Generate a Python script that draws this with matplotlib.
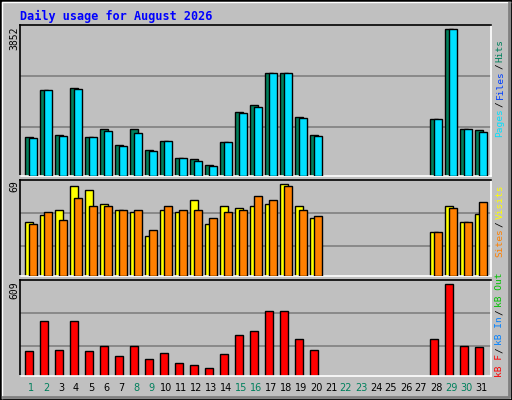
import matplotlib
matplotlib.use("Agg")
import matplotlib.pyplot as plt
from matplotlib.patches import Rectangle
from matplotlib.lines import Line2D

days = list(range(1, 32))
active = [1,2,3,4,5,6,7,8,9,10,11,12,13,14,15,16,17,18,19,20,28,29,30,31]
hits  = [1028,2257,1080,2309,1028,1237,819,1237,688,923,479,452,296,897,1681,1865,2701,2701,1551,1080,1498,3852,1237,1211]
files = [1002,2257,1054,2283,1028,1185,792,1132,662,923,479,400,269,897,1655,1812,2701,2701,1525,1054,1498,3852,1237,1158]
visits = [41,46,50,68,65,54,50,48,30,50,48,57,39,53,51,53,54,69,53,44,33,53,41,47]
sites  = [39,48,42,59,53,53,50,50,35,53,50,50,44,48,50,60,57,68,50,45,33,51,41,56]
kbytes = [162,362,169,362,162,196,129,196,109,149,82,69,49,142,269,296,429,429,242,169,242,609,196,189]
weekend = [1,2,8,9,15,16,22,23,29,30]
title = "Daily usage for August 2026"

W, H = 512, 400
fig = plt.figure(figsize=(5.12, 4.0), dpi=100, facecolor="#C0C0C0")
mono = "DejaVu Sans Mono"

def px_axes(x0, y0, x1, y1):
    return fig.add_axes([x0 / W, 1 - y1 / H, (x1 - x0) / W, (y1 - y0) / H])

XL = (0.647, 32.05)

def style(ax, ymax, grids):
    ax.set_facecolor("#C0C0C0")
    ax.set_xlim(*XL)
    ax.set_ylim(0, ymax)
    ax.set_xticks([]); ax.set_yticks([])
    for g in grids:
        ax.axhline(g, color="#808080", lw=1.2, zorder=1)
    ax.spines["top"].set_color("black"); ax.spines["left"].set_color("black")
    ax.spines["bottom"].set_color("white"); ax.spines["right"].set_color("white")
    for s in ax.spines.values():
        s.set_linewidth(1.2)

# top panel: baseline at 176.3 px, 26.15 per px
ax1 = px_axes(20, 25, 491, 176.3)
style(ax1, 151.3 * 26.15, [2623, 1289])
ax1.bar([d for d in active], hits, width=8 / 15, align="edge", color="#00805C", edgecolor="black", lw=1, zorder=2)
ax1.bar([d + 4 / 15 for d in active], files, width=7.4 / 15, align="edge", color="#00E0FF", edgecolor="black", lw=1, zorder=3)

ax2 = px_axes(20, 180, 491, 276.3)
style(ax2, 96.3 * 0.75, [47.25, 22.5])
ax2.bar(active, visits, width=8 / 15, align="edge", color="#FFFF00", edgecolor="black", lw=1, zorder=2)
ax2.bar([d + 4 / 15 for d in active], sites, width=7.4 / 15, align="edge", color="#FF8000", edgecolor="black", lw=1, zorder=3)

ax3 = px_axes(20, 280, 491, 375.7)
style(ax3, 95.7 * 3 * 2.222, [418, 196])
ax3.bar(active, kbytes, width=7.4 / 15, align="edge", color="#FF0000", edgecolor="black", lw=1, zorder=2)

for d in days:
    ax3.text(d + 0.38, -12.3 * 3 * 2.222, str(d), ha="center", va="center", fontsize=7,
             color="#00805C" if d in weekend else "black")

fig.text(20 / W, 1 - 16 / H, title, color="#0000FF", fontsize=8.5, fontweight="bold",
         family=mono, va="center", ha="left")

for txt, y in [("3852", 38), ("69", 186), ("609", 290)]:
    fig.text(14 / W, 1 - y / H, txt, rotation=90, fontsize=7, ha="center", va="center", family=mono)

def right_label(parts, ybottom):
    y = ybottom
    for t, c in parts:
        fig.text(500 / W, 1 - y / H, t, rotation=90, color=c, fontsize=6.8, family=mono,
                 ha="center", va="bottom")
        y -= len(t) * 5.6 + 2
right_label([("Pages", "#00E0FF"), ("/", "black"), ("Files", "#0040FF"), ("/", "black"), ("Hits", "#00805C")], 137)
right_label([("Sites", "#FF8000"), ("/", "black"), ("Visits", "#FFFF00")], 257)
right_label([("kB F", "#FF0000"), ("/", "black"), ("kB In", "#0080FF"), ("/", "black"), ("kB Out", "#00C000")], 377)

# outer frame bevel
fig.add_artist(Rectangle((0, 0), 1, 1, transform=fig.transFigure, fill=False, ec="black", lw=2))
fig.add_artist(Line2D([2 / W, 2 / W, 1 - 2 / W], [2 / H, 1 - 2 / H, 1 - 2 / H], transform=fig.transFigure, color="white", lw=1))
fig.add_artist(Line2D([3 / W, 1 - 3 / W, 1 - 3 / W], [3 / H, 3 / H, 1 - 3 / H], transform=fig.transFigure, color="#808080", lw=2))

fig.savefig("out.png", dpi=100, facecolor=fig.get_facecolor())
